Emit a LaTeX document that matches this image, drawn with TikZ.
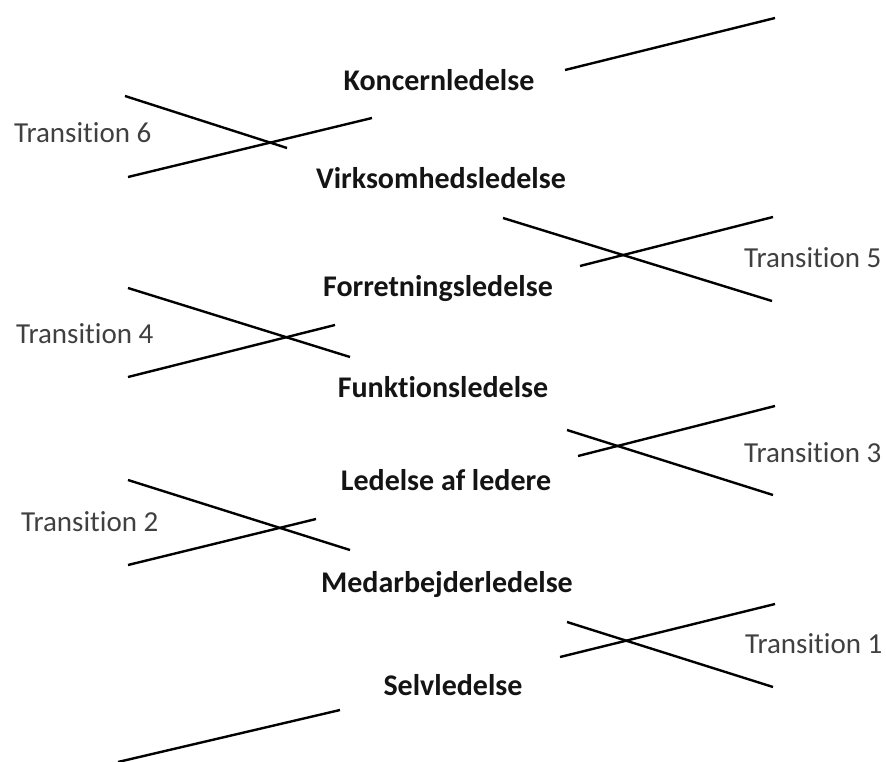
\documentclass[tikz,border=0pt]{standalone}
\usepackage{fontspec}
\setmainfont{Carlito}[Ligatures=NoCommon]
\usetikzlibrary{positioning}
\definecolor{lvlFg}{HTML}{141414}
\definecolor{lvlMuted}{HTML}{404040}
\tikzset{
  lvl level/.style={
    text=lvlFg,
    font=\fontsize{30}{32}\selectfont\bfseries,
    inner sep=0pt,
    anchor=base,
  },
}
\tikzset{
  lvl transition/.style={
    text=lvlMuted,
    font=\fontsize{29}{31}\selectfont,
    inner sep=0pt,
    anchor=base west,
  },
}
\tikzset{
  lvl stroke/.style={
    draw=black,
    line width=2.4pt,
  },
}
\tikzset{
  lvl figure/.style={
    x=1pt,
    y=-1pt,
  },
}

\begin{document}
\begin{tikzpicture}[lvl figure]
  \useasboundingbox (0,0) rectangle (886,762);

  % =========================================================================
  % Management levels (bold, middle column)
  % =========================================================================
  \node[lvl level] (koncern)    at (439, 91)  {Koncernledelse};
  \node[lvl level] (virksomhed) at (441, 189) {Virksomhedsledelse};
  \node[lvl level] (forretning) at (438, 296) {Forretningsledelse};
  \node[lvl level] (funktion)   at (443, 397) {Funktionsledelse};
  \node[lvl level] (ledere)     at (446, 490) {Ledelse af ledere};
  \node[lvl level] (medarb)     at (447, 592) {Medarbejderledelse};
  \node[lvl level] (selv)       at (453, 695) {Selvledelse};

  % =========================================================================
  % Transition labels (alternating left / right)
  % =========================================================================
  \node[lvl transition] (trans6) at (14, 143)  {Transition 6};
  \node[lvl transition] (trans5) at (744, 267) {Transition 5};
  \node[lvl transition] (trans4) at (16, 343)  {Transition 4};
  \node[lvl transition] (trans3) at (744, 462) {Transition 3};
  \node[lvl transition] (trans2) at (21, 531)  {Transition 2};
  \node[lvl transition] (trans1) at (745, 653) {Transition 1};

  % =========================================================================
  % Top: lone rising stroke
  % =========================================================================
  \draw[lvl stroke] (565, 70) -- (775, 18);

  % =========================================================================
  % Crossings (one per transition)
  % =========================================================================
  % transition 6
  \draw[lvl stroke] (125, 96)  -- (287, 148);
  \draw[lvl stroke] (128, 177) -- (372, 118);
  % transition 5
  \draw[lvl stroke] (503, 218) -- (772, 301);
  \draw[lvl stroke] (580, 266) -- (773, 217);
  % transition 4
  \draw[lvl stroke] (128, 288) -- (350, 357);
  \draw[lvl stroke] (128, 377) -- (335, 325);
  % transition 3
  \draw[lvl stroke] (567, 430) -- (773, 495);
  \draw[lvl stroke] (578, 456) -- (775, 406);
  % transition 2
  \draw[lvl stroke] (128, 480) -- (350, 550);
  \draw[lvl stroke] (128, 565) -- (316, 519);
  % transition 1
  \draw[lvl stroke] (567, 622) -- (773, 687);
  \draw[lvl stroke] (560, 657) -- (775, 604);

  % =========================================================================
  % Bottom: lone rising stroke
  % =========================================================================
  \draw[lvl stroke] (118, 762) -- (340, 710);

\end{tikzpicture}
\end{document}
